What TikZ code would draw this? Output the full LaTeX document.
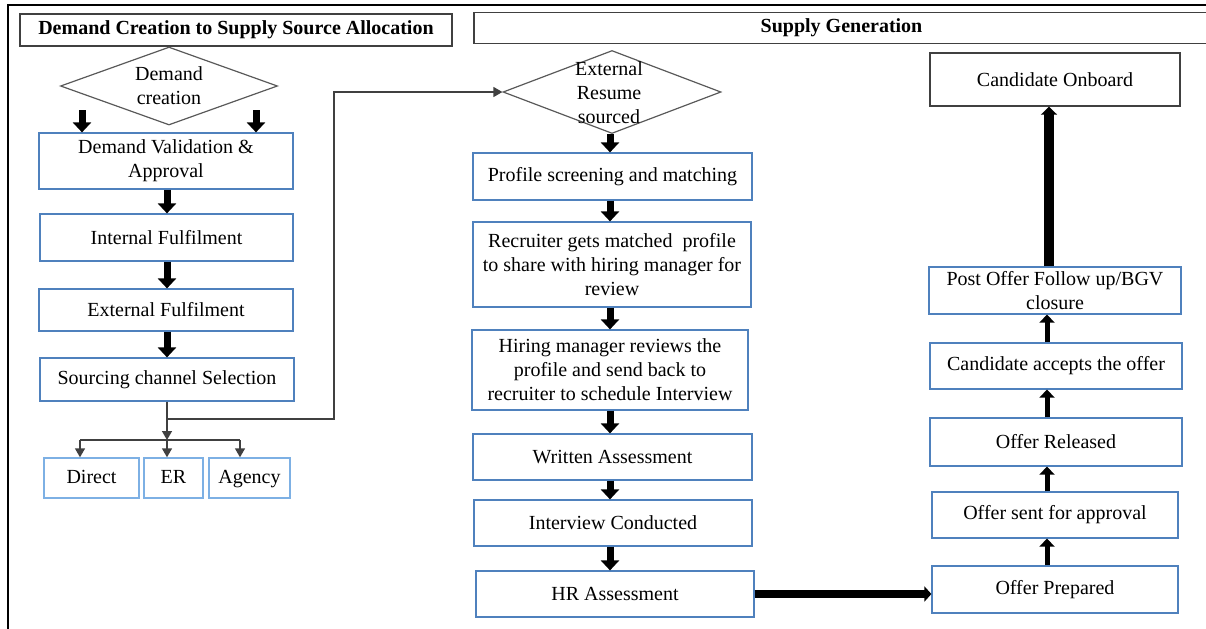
\documentclass[tikz,border=0pt]{standalone}
\usepackage{fontspec}
\setmainfont{Liberation Serif}
\usetikzlibrary{arrows.meta,shapes.geometric,positioning}
\definecolor{boxblue}{RGB}{79,129,189}
\definecolor{chanblue}{RGB}{125,176,228}
\definecolor{wiregray}{RGB}{64,64,64}
\tikzset{ stage/.style={draw=boxblue,line width=0.6pt,align=center,inner sep=1pt,font=\fontsize{10}{12}\selectfont},
  chan/.style={draw=chanblue,line width=0.7pt,minimum height=20pt,text height=1.6ex,text depth=0.5ex,font=\fontsize{10}{12}\selectfont},
  hdr/.style={draw=black!75,line width=0.7pt,font=\fontsize{10}{12}\selectfont\bfseries},
  choice/.style={draw=black!65,line width=0.6pt,diamond,aspect=2.8,inner sep=0pt,align=center,font=\fontsize{10}{12}\selectfont},
  fat/.style={line width=3.5pt,-{Triangle[width=9pt,length=5pt]}},
  slim/.style={line width=2.5pt,-{Triangle[width=7.5pt,length=4pt]}},
  wide/.style={line width=4pt,-{Triangle[width=7.5pt,length=3.5pt]}},
  big/.style={line width=5pt,-{Triangle[width=8pt,length=4pt]}},
  wire/.style={draw=wiregray,line width=0.7pt},
  wtip/.style={-{Triangle[width=5pt,length=4.5pt]}} }

\begin{document}
\begin{tikzpicture}[x=0.5pt,y=-0.5pt]
   \useasboundingbox (0,0) rectangle (1206,628);
   \draw[line width=1.2pt] (8,640) -- (8,5) -- (1215,5);
   \node[hdr,minimum width=216pt,minimum height=16pt] (hleft) at (236,30) {Demand Creation to Supply Source Allocation};
   \node[hdr,minimum width=367.5pt,minimum height=15pt] (hright) at (841.5,28) {Supply Generation};
   \node[choice,minimum width=108.5pt,minimum height=39pt] (dem) at (169,86) {Demand\\creation};
   \node[stage,minimum width=127pt,minimum height=28pt] (dv) at (166,161) {Demand Validation \&\\Approval};
   \node[stage,minimum width=126.5pt,minimum height=23.5pt] (intf) at (166.5,237.5) {Internal Fulfilment};
   \node[stage,minimum width=127pt,minimum height=21pt] (extf) at (166,310) {External Fulfilment};
   \node[stage,minimum width=127pt,minimum height=21.5pt] (scs) at (167,379.5) {Sourcing channel Selection};
   \node[chan,minimum width=47.5pt] (direct) at (91.5,478) {Direct};
   \node[chan,minimum width=29.5pt] (er) at (173.5,478) {ER};
   \node[chan,minimum width=40.5pt] (agency) at (249.5,478) {Agency};
   \node[choice,minimum width=109pt,minimum height=41.5pt] (extres) at (612,92) {};
   \node[align=center,font=\fontsize{10}{12}\selectfont] (extreslbl) at (609,93) {External\\Resume\\sourced};
   \node[stage,minimum width=139.5pt,minimum height=23.5pt] (psm) at (612.5,176.5) {Profile screening and matching};
   \node[stage,minimum width=139pt,minimum height=42.5pt] (rec) at (612,264.5) {Recruiter gets matched\ \ profile\\to share with hiring manager for\\review};
   \node[stage,minimum width=138pt,minimum height=40pt] (hmr) at (610,370) {Hiring manager reviews the\\profile and send back to\\recruiter to schedule Interview};
   \node[stage,minimum width=139.5pt,minimum height=23pt] (wa) at (612.5,457) {Written Assessment};
   \node[stage,minimum width=139pt,minimum height=23pt] (ic) at (613,523) {Interview Conducted};
   \node[stage,minimum width=139pt,minimum height=23pt] (hra) at (615,594) {HR Assessment};
   \node[hdr,font=\fontsize{10}{12}\selectfont,minimum width=125pt,minimum height=26.5pt] (onb) at (1055,79.5) {Candidate Onboard};
   \node[stage,minimum width=126pt,minimum height=23.5pt] (pof) at (1055,290.5) {Post Offer Follow up/BGV\\closure};
   \node[stage,minimum width=126pt,minimum height=23pt] (cao) at (1056,366) {Candidate accepts the offer};
   \node[stage,minimum width=126pt,minimum height=24pt] (ofr) at (1056,442) {Offer Released};
   \node[stage,minimum width=123pt,minimum height=23pt] (osa) at (1055,515) {Offer sent for approval};
   \node[stage,minimum width=123pt,minimum height=23.5pt] (opr) at (1055,589.5) {Offer Prepared};
   \coordinate (bend) at (334,419);
   \coordinate (split) at (167,440);
   \coordinate (sL) at (80,440);
   \coordinate (sR) at (240,440);
   \coordinate (mid) at (610,0);
   \coordinate (rgt) at (1047,0);
   \draw[fat] ([xshift=-42pt,yshift=11pt]dv.north) -- ([xshift=-42pt]dv.north);
   \draw[fat] ([xshift=45pt,yshift=11pt]dv.north) -- ([xshift=45pt]dv.north);
   \draw[fat] (dv.south -| scs) -- (intf.north -| scs);
   \draw[fat] (intf.south -| scs) -- (extf.north -| scs);
   \draw[fat] (extf.south -| scs) -- (scs.north);
   \draw[wire,wtip] (scs.south) |- (bend) |- (extres.west);
   \draw[wire,wtip] (scs.south) -- (split);
   \draw[wire] (sL) -- (sR);
   \draw[wire,wtip] (sL) -- (sL |- direct.north);
   \draw[wire,wtip] (split) -- (split |- er.north);
   \draw[wire,wtip] (sR) -- (sR |- agency.north);
   \draw[fat] (mid |- extres.south) -- (mid |- psm.north);
   \draw[fat] (mid |- psm.south) -- (mid |- rec.north);
   \draw[fat] (mid |- rec.south) -- (mid |- hmr.north);
   \draw[fat] (mid |- hmr.south) -- (mid |- wa.north);
   \draw[fat] (mid |- wa.south) -- (mid |- ic.north);
   \draw[fat] (mid |- ic.south) -- (mid |- hra.north);
   \draw[wide] (hra.east) -- (hra.east -| opr.west);
   \draw[slim] (rgt |- opr.north) -- (rgt |- osa.south);
   \draw[slim] (rgt |- osa.north) -- (rgt |- ofr.south);
   \draw[slim] (rgt |- ofr.north) -- (rgt |- cao.south);
   \draw[slim] (rgt |- cao.north) -- (rgt |- pof.south);
   \draw[big] ([xshift=-3pt]pof.north) -- ([xshift=-3pt]onb.south);
  \end{tikzpicture}
\end{document}
